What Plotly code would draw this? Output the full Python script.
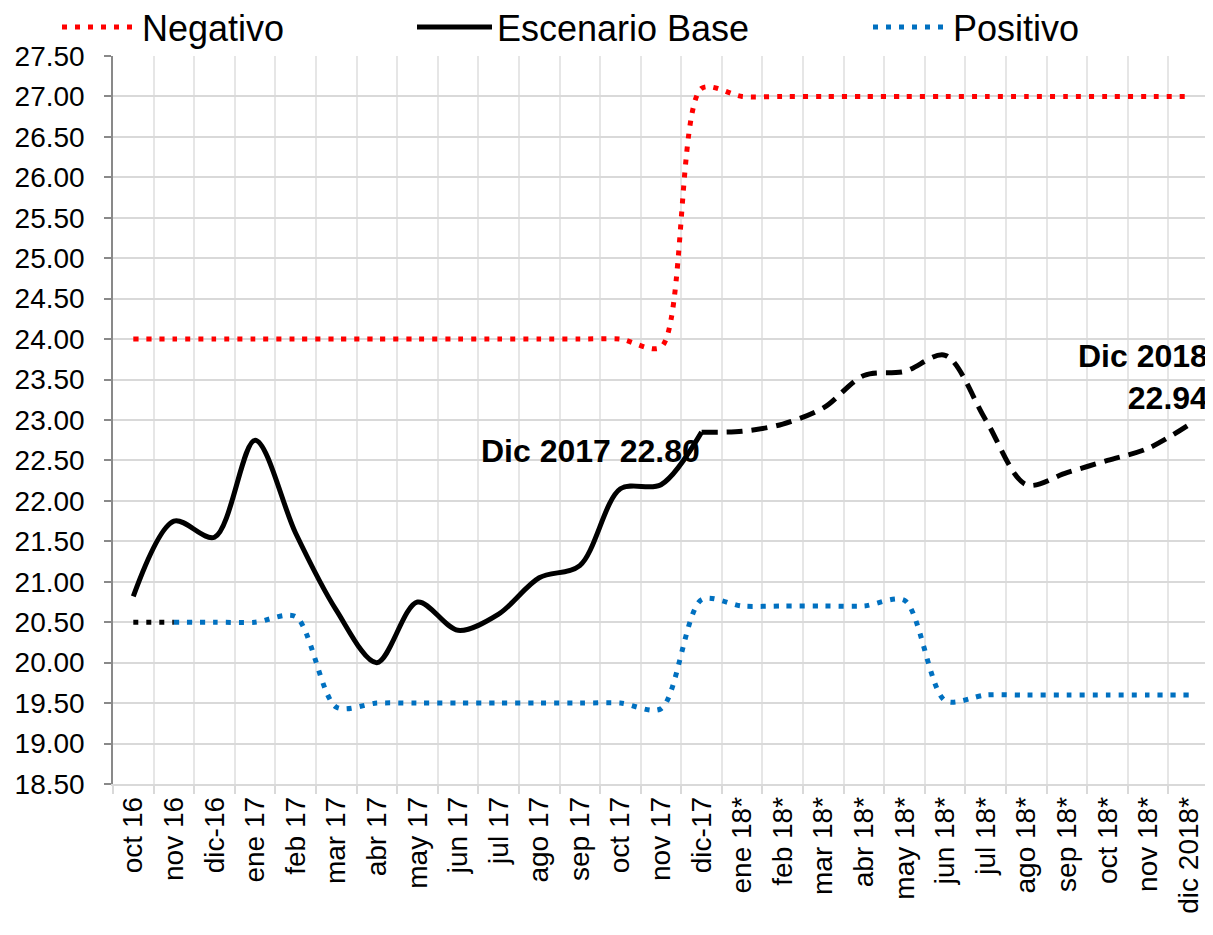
import plotly.graph_objects as go

categories = ["oct 16", "nov 16", "dic-16", "ene 17", "feb 17", "mar 17", "abr 17", "may 17",
              "jun 17", "jul 17", "ago 17", "sep 17", "oct 17", "nov 17", "dic-17",
              "ene 18*", "feb 18*", "mar 18*", "abr 18*", "may 18*", "jun 18*", "jul 18*",
              "ago 18*", "sep 18*", "oct 18*", "nov 18*", "dic 2018*"]

negativo = [24.0, 24.0, 24.0, 24.0, 24.0, 24.0, 24.0, 24.0, 24.0, 24.0, 24.0, 24.0, 24.0, 23.9, 27.1,
            27.0, 27.0, 27.0, 27.0, 27.0, 27.0, 27.0, 27.0, 27.0, 27.0, 27.0, 27.0]

base = [20.82, 21.75, 21.55, 22.75, 21.6, 20.65, 20.0, 20.75, 20.4, 20.6, 21.05, 21.2, 22.15, 22.2, 22.85,
        22.86, 22.95, 23.15, 23.55, 23.6, 23.8, 23.0, 22.2, 22.35, 22.5, 22.65, 22.94]

positivo = [20.5, 20.5, 20.5, 20.5, 20.57, 19.45, 19.5, 19.5, 19.5, 19.5, 19.5, 19.5, 19.5, 19.43, 20.78,
            20.7, 20.7, 20.7, 20.7, 20.77, 19.53, 19.6, 19.6, 19.6, 19.6, 19.6, 19.6]

hist_end = 14  # index of dic-17, last observed value

FONT = "Arial, Liberation Sans, sans-serif"
RED = "#FF0000"
BLUE = "#0070C0"

fig = go.Figure()

# Negativo
fig.add_trace(go.Scatter(
    x=categories, y=negativo, name="Negativo", mode="lines",
    line=dict(color=RED, width=5, dash="5px,8px", shape="spline", smoothing=0.8),
    legend="legend"))

# Positivo: first (historical) segment in black dots
fig.add_trace(go.Scatter(
    x=categories[:2], y=positivo[:2], mode="lines", showlegend=False,
    line=dict(color="black", width=5, dash="5px,8px")))
fig.add_trace(go.Scatter(
    x=categories[1:], y=positivo[1:], name="Positivo", mode="lines",
    line=dict(color=BLUE, width=5, dash="5px,8px", shape="spline", smoothing=0.8),
    legend="legend3"))

# Escenario Base: solid for history, dashed for forecast
fig.add_trace(go.Scatter(
    x=categories[:hist_end + 1], y=base[:hist_end + 1], name="Escenario Base", mode="lines",
    line=dict(color="black", width=5, shape="spline", smoothing=0.9),
    legend="legend2"))
fig.add_trace(go.Scatter(
    x=categories[hist_end:], y=base[hist_end:], mode="lines", showlegend=False,
    line=dict(color="black", width=5, dash="16px,9px", shape="spline", smoothing=0.9)))

annotations = [
    dict(x=categories[hist_end], y=22.62, xref="x", yref="y", text="<b>Dic 2017 22.80</b>",
         showarrow=False, xanchor="right", yanchor="middle",
         font=dict(family=FONT, size=32, color="black")),
    dict(x=categories[-1], y=23.53, xref="x", yref="y", text="<b>Dic 2018<br>22.94</b>",
         showarrow=False, xanchor="right", yanchor="middle", align="right", xshift=21,
         font=dict(family=FONT, size=32, color="black")),
]

# The page places the figure 8px in from the window's top-left corner,
# so screen positions below are converted with that offset.
OFF = 8
PLOT_L, PLOT_T, PLOT_W, PLOT_H = 113 - OFF, 56 - OFF, 1096, 728
FIG_W, FIG_H = 1213 - OFF, 935 - OFF

leg_common = dict(orientation="h", yanchor="middle", xanchor="left", bgcolor="rgba(0,0,0,0)",
                  font=dict(family=FONT, size=36, color="black"), itemwidth=75)
ly = 1 + (56 - 27) / PLOT_H

def px2paper(px):
    return (px - 113) / PLOT_W

fig.update_layout(
    width=FIG_W, height=FIG_H,
    margin=dict(l=PLOT_L, r=FIG_W - PLOT_L - PLOT_W, t=PLOT_T, b=FIG_H - PLOT_T - PLOT_H,
                autoexpand=False),
    paper_bgcolor="white", plot_bgcolor="white",
    font=dict(family=FONT, size=28, color="black"),
    showlegend=True,
    legend=dict(x=px2paper(57), y=ly, **leg_common),
    legend2=dict(x=px2paper(412), y=ly, **leg_common),
    legend3=dict(x=px2paper(868), y=ly, **leg_common),
    annotations=annotations,
    xaxis=dict(
        type="category", categoryorder="array", categoryarray=categories,
        range=[-0.5, len(categories) - 0.5],
        tickson="boundaries", ticks="outside", ticklen=8, tickcolor="#d9d9d9", tickwidth=1.5,
        showgrid=True, gridcolor="#e6e6e6", gridwidth=1.5,
        showline=True, linecolor="#d9d9d9", linewidth=1.5,
        tickangle=-90, tickfont=dict(family=FONT, size=28, color="black"),
        fixedrange=True,
    ),
    yaxis=dict(
        range=[18.5, 27.5], dtick=0.5, tick0=18.5, tickformat=".2f",
        ticks="outside", ticklen=7, tickcolor="#898989", tickwidth=1.5,
        showgrid=True, gridcolor="#d9d9d9", gridwidth=1.5,
        showline=True, linecolor="#898989", linewidth=1.5,
        zeroline=False, ticklabelstandoff=14,
        tickfont=dict(family=FONT, size=28, color="black"),
        fixedrange=True,
    ),
)

fig.write_html("out.html")
